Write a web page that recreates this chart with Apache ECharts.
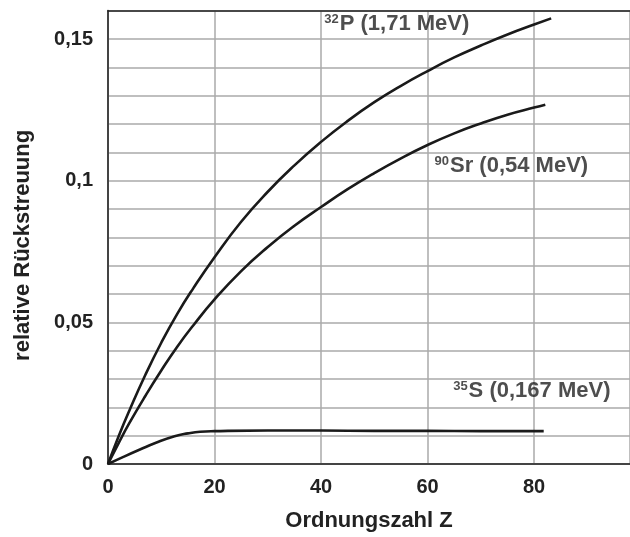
<!DOCTYPE html>
<html>
<head>
<meta charset="utf-8">
<script src="https://cdn.jsdelivr.net/npm/echarts@6/dist/echarts.min.js"></script>
<style>
html,body{margin:0;padding:0;background:#fff;}
#chart{width:630px;height:537px;}
</style>
</head>
<body>
<div id="chart"></div>
<script>
// Data
var p32Z = [0, 2, 4, 7, 10, 13, 16, 20, 25, 30, 35, 40, 45, 50, 55, 60, 65, 70, 75, 80, 83.2];
var p32V = [0, 0.0098, 0.0188, 0.0314, 0.0428, 0.0530, 0.0620, 0.0730, 0.0855, 0.0961, 0.1054, 0.1137, 0.1211, 0.1277, 0.1335, 0.1387, 0.1435, 0.1477, 0.1516, 0.1551, 0.1573];

var sr90Z = [0, 2, 4, 7, 10, 13, 16, 20, 25, 30, 35, 40, 45, 50, 55, 60, 65, 70, 75, 80, 82.1];
var sr90V = [0, 0.0074, 0.0144, 0.0240, 0.0330, 0.0414, 0.0489, 0.0581, 0.0681, 0.0766, 0.0841, 0.0907, 0.0970, 0.1027, 0.1079, 0.1126, 0.1167, 0.1202, 0.1233, 0.1258, 0.1268];

var s35Z = [0, 3, 6, 9, 12.5, 15, 17.3, 20, 30, 40, 50, 60, 70, 81.8];
var s35V = [0, 0.0026, 0.0051, 0.0075, 0.0098, 0.0108, 0.0114, 0.0116, 0.0118, 0.0118, 0.0117, 0.0117, 0.0116, 0.0116];

var labelTexts = ['{sup|32}{b|P (1,71 MeV)}', '{sup|90}{b|Sr (0,54 MeV)}', '{sup|35}{b|S (0,167 MeV)}'];
var labelZ = [40.6, 61.3, 64.8];
var labelV = [0.1555, 0.1052, 0.0257];

var yTickValues = [0, 0.05, 0.1, 0.15];
var yTickLabels = ['0', '0,05', '0,1', '0,15'];
var xTickValues = [0, 20, 40, 60, 80];
var xTickLabels = ['0', '20', '40', '60', '80'];

function pairs(xs, ys) { return xs.map(function (x, i) { return [x, ys[i]]; }); }

var chart = echarts.init(document.getElementById('chart'), null, {renderer: 'canvas'});
var font = '"Liberation Sans", Arial, Helvetica, sans-serif';
var lineStyle = {color: '#1a1a1a', width: 2.6};

var labelData = labelTexts.map(function (t, i) {
  return {value: [labelZ[i], labelV[i]], label: {formatter: t}};
});

chart.setOption({
  animation: false,
  backgroundColor: '#fff',
  textStyle: {fontFamily: font},
  grid: {left: 108, right: 0, top: 10.7, bottom: 73, show: false},
  xAxis: [{
    type: 'value', min: 0, max: 98, interval: 20,
    name: 'Ordnungszahl Z', nameLocation: 'middle', nameGap: 46,
    nameTextStyle: {fontSize: 22, fontWeight: 'bold', color: '#222', fontFamily: font},
    axisLine: {show: true, lineStyle: {color: '#444', width: 2}},
    axisTick: {show: false},
    axisLabel: {
      fontSize: 20, fontWeight: 'bold', color: '#222', margin: 13, fontFamily: font,
      showMaxLabel: false,
      formatter: function (v) { var i = xTickValues.indexOf(v); return i >= 0 ? xTickLabels[i] : ''; }
    },
    splitLine: {show: true, lineStyle: {color: '#aaa', width: 1.5}}
  }, {
    type: 'value', position: 'top', min: 0, max: 98,
    axisLine: {show: true, onZero: false, lineStyle: {color: '#222', width: 1.5}},
    axisTick: {show: false}, axisLabel: {show: false}, splitLine: {show: false}
  }],
  yAxis: {
    type: 'value', min: 0, max: 0.16, interval: 0.01,
    name: 'relative Rückstreuung', nameLocation: 'middle', nameGap: 74,
    nameTextStyle: {fontSize: 22, fontWeight: 'bold', color: '#222', fontFamily: font, padding: [0, 16, 0, 0]},
    axisLine: {show: true, lineStyle: {color: '#444', width: 2}},
    axisTick: {show: false},
    axisLabel: {
      fontSize: 20, fontWeight: 'bold', color: '#222', margin: 15, fontFamily: font,
      formatter: function (v) {
        for (var i = 0; i < yTickValues.length; i++) {
          if (Math.abs(v - yTickValues[i]) < 1e-9) return yTickLabels[i];
        }
        return '';
      }
    },
    splitLine: {show: true, lineStyle: {color: '#aaa', width: 1.5}}
  },
  series: [
    {type: 'line', data: pairs(p32Z, p32V), smooth: 0.5, showSymbol: false, lineStyle: lineStyle},
    {type: 'line', data: pairs(sr90Z, sr90V), smooth: 0.5, showSymbol: false, lineStyle: lineStyle},
    {type: 'line', data: pairs(s35Z, s35V), smooth: 0.5, showSymbol: false, lineStyle: lineStyle},
    {
      type: 'scatter', symbolSize: 0, data: labelData, silent: true,
      label: {
        show: true, position: 'right', distance: 0,
        rich: {
          sup: {fontSize: 13, fontWeight: 'bold', color: '#222', fontFamily: font, padding: [0, 1, 9, 0]},
          b: {fontSize: 22, fontWeight: 'bold', color: '#222', fontFamily: font}
        }
      }
    }
  ]
});
</script>
</body>
</html>
